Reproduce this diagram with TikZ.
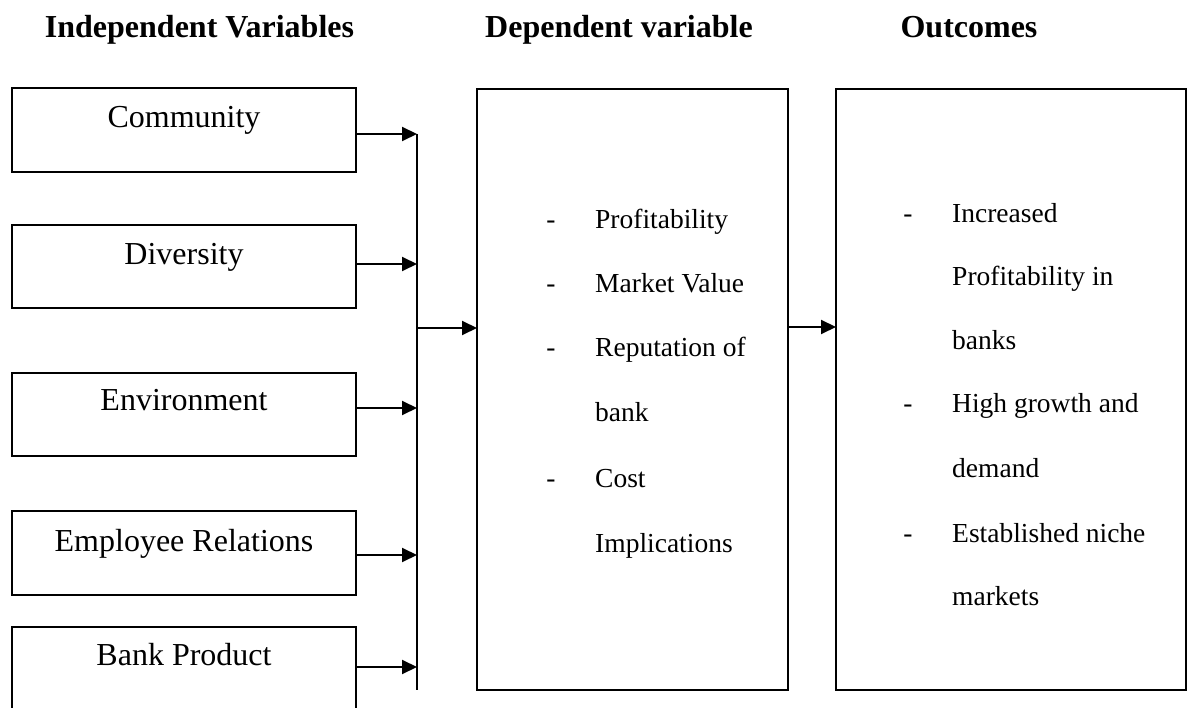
\documentclass[tikz,border=0pt]{standalone}
\usepackage{fontspec}
\setmainfont{Liberation Serif}
\usetikzlibrary{arrows.meta}
\begin{document}
\begin{tikzpicture}[x=1pt,y=-1pt,
  box/.style={draw,line width=2pt,rectangle,inner sep=0pt,outer sep=0pt,anchor=north west},
  txt/.style={inner sep=0pt,anchor=base,font=\fontsize{32}{38}\selectfont},
  item/.style={inner sep=0pt,anchor=base,font=\fontsize{27.5}{33}\selectfont},
  iteml/.style={inner sep=0pt,anchor=base west,font=\fontsize{27.5}{33}\selectfont},
  head/.style={inner sep=0pt,anchor=base,font=\fontsize{32}{38}\selectfont\bfseries},
  conn/.style={line width=2pt},
  arr/.style={line width=2pt,-{Triangle[length=15pt,width=14pt]}}]
\useasboundingbox (0,0) rectangle (1189,708);
\clip (0,0) rectangle (1189,708);
% headers
\node[head] (h1) at (199.5,38) {Independent Variables};
\node[head] (h2) at (619,38) {Dependent variable};
\node[head] (h3) at (969,38) {Outcomes};
% left boxes
\node[box,minimum width=344pt,minimum height=84pt] (com) at (12,88) {};
\node[box,minimum width=344pt,minimum height=83pt] (div) at (12,225) {};
\node[box,minimum width=344pt,minimum height=83pt] (env) at (12,373) {};
\node[box,minimum width=344pt,minimum height=84pt] (emp) at (12,511) {};
\node[box,minimum width=344pt,minimum height=100pt] (bnk) at (12,627) {};
\node[txt] (tcom) at (184,128) {Community};
\node[txt] (tdiv) at (184,265) {Diversity};
\node[txt] (tenv) at (184,411) {Environment};
\node[txt] (temp) at (184,551) {Employee Relations};
\node[txt] (tbnk) at (184,665) {Bank Product};
% bus
\coordinate (b1) at (417,134);
\coordinate (b2) at (417,264);
\coordinate (b3) at (417,408);
\coordinate (b4) at (417,555);
\coordinate (b5) at (417,667);
\coordinate (bb) at (417,690);
\coordinate (bm) at (417,328);
\draw[conn] (b1) -- (bb);
\draw[arr] (com.east |- b1) -- (b1);
\draw[arr] (div.east |- b2) -- (b2);
\draw[arr] (env.east |- b3) -- (b3);
\draw[arr] (emp.east |- b4) -- (b4);
\draw[arr] (bnk.east |- b5) -- (b5);
% middle and right boxes
\node[box,minimum width=311pt,minimum height=601pt] (dep) at (477,89) {};
\node[box,minimum width=350pt,minimum height=601pt] (out) at (836,89) {};
\draw[arr] (bm) -- (dep.west |- bm);
\coordinate (m2) at (0,327);
\draw[arr] (dep.east |- m2) -- (out.west |- m2);
% middle text
\node[item] (d1) at (551,229) {-};
\node[iteml] (p1) at (595,229) {Profitability};
\node[item] (d2) at (551,293) {-};
\node[iteml] (p2) at (595,293) {Market Value};
\node[item] (d3) at (551,357) {-};
\node[iteml] (p3) at (595,357) {Reputation of};
\node[iteml] (p3b) at (595,422) {bank};
\node[item] (d4) at (551,487) {-};
\node[iteml] (p4) at (595,487) {Cost};
\node[iteml] (p4b) at (595,552) {Implications};
% right text
\node[item] (e1) at (908,223) {-};
\node[iteml] (o1) at (952,223) {Increased};
\node[iteml] (o1b) at (952,286) {Profitability in};
\node[iteml] (o1c) at (952,350) {banks};
\node[item] (e2) at (908,413) {-};
\node[iteml] (o2) at (952,413) {High growth and};
\node[iteml] (o2b) at (952,477) {demand};
\node[item] (e3) at (908,542) {-};
\node[iteml] (o3) at (952,542) {Established niche};
\node[iteml] (o3b) at (952,605) {markets};
\end{tikzpicture}
\end{document}
